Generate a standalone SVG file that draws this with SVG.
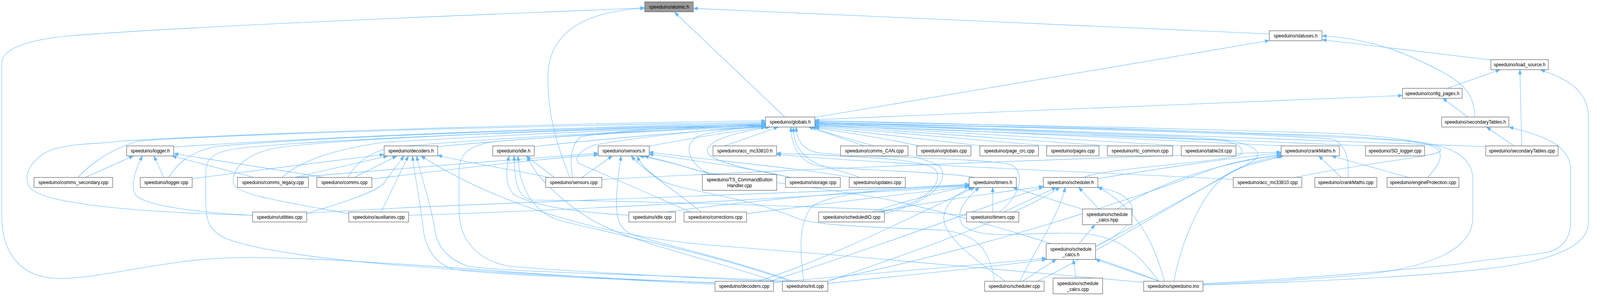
<svg xmlns="http://www.w3.org/2000/svg" width="4416" height="759" viewBox="0 0 4416 759" preserveAspectRatio="none" style="width:100%;height:100%">
<style>
.e{fill:none;stroke:#63b8ff;stroke-width:1.1}
.n rect{fill:#ffffff;stroke:#666666;stroke-width:1.3}
.n.root rect{fill:#999999}
.n text{font-family:"Liberation Sans",Arial,sans-serif;font-size:12.8px;fill:#000000;text-anchor:middle}
</style>
<defs>
<marker id="a" markerUnits="userSpaceOnUse" markerWidth="13" markerHeight="10" refX="12" refY="4.5" orient="auto">
<path d="M0,0 L12,4.5 L0,9 z" fill="#63b8ff" stroke="#63b8ff" stroke-width="0.8"/>
</marker>
</defs>
<rect x="0" y="0" width="4416" height="759" fill="#ffffff"/>
<g id="edges">
<path class="e" marker-end="url(#a)" d="M2166,300 L1862,31.5"/>
<path class="e" marker-end="url(#a)" d="M3503,87 L1914,21.5"/>
<path class="e" marker-end="url(#a)" d="M1573,455 C1540,380 1512,300 1512,200 C1512,90 1600,30 1779,21"/>
<path class="e" marker-end="url(#a)" d="M1973,729 C1500,712 900,650 613,662 C450,668 280,714 165,714 C50,714 5,640 5,557 L5,160 C5,120 100,100 189,92 C600,62 1500,32 1779,20"/>
<path class="e" marker-end="url(#a)" d="M2249,301 L3503,104"/>
<path class="e" marker-end="url(#a)" d="M4116,154 L3649,102"/>
<path class="e" marker-end="url(#a)" d="M4071,300 C4068,240 4040,215 3980,184 C3900,145 3800,100 3649,92"/>
<path class="e" marker-end="url(#a)" d="M3994,226.5 L4140,179"/>
<path class="e" marker-end="url(#a)" d="M4200,374 L4195,179"/>
<path class="e" marker-end="url(#a)" d="M3320,731 C3600,722 3900,712 4122,687 C4250,672 4384,640 4384,571 L4384,300 C4384,230 4320,200 4252,179"/>
<path class="e" marker-end="url(#a)" d="M2249,307 C2800,285 3400,262 3871,245"/>
<path class="e" marker-end="url(#a)" d="M4051,300 L3982,252"/>
<path class="e" marker-end="url(#a)" d="M4178,374 L4103,326"/>
<path class="e" marker-end="url(#a)" d="M3320,727 C3600,715 3900,690 4027,677 C4100,665 4180,660 4263,648 C4320,640 4335,600 4335,571 L4335,435 C4335,370 4250,345 4165,326"/>
<path class="e" marker-end="url(#a)" d="M479.5,377 C900,350 1700,322 2113,316"/>
<path class="e" marker-end="url(#a)" d="M215,455 C250,420 300,385 380,362 C700,340 1700,318 2113,314"/>
<path class="e" marker-end="url(#a)" d="M465,455 C490,420 520,390 600,375 C900,350 1700,324 2113,320"/>
<path class="e" marker-end="url(#a)" d="M697,552 C400,545 110,525 80,478 C60,440 100,400 140,385 C200,365 280,370 330,362 C800,335 1800,312 2113,310"/>
<path class="e" marker-end="url(#a)" d="M778,455 C820,420 900,385 1060,365 C1500,340 1900,326 2113,322"/>
<path class="e" marker-end="url(#a)" d="M963,548 C800,520 650,500 644,470 C640,420 700,388 772,378 C1000,350 1800,325 2113,318"/>
<path class="e" marker-end="url(#a)" d="M1973,726 C1500,705 800,680 620,610 C575,590 568,560 568,520 L568,440 C568,400 600,385 682,378 C1000,350 1800,326 2113,323"/>
<path class="e" marker-end="url(#a)" d="M1208,376 C1500,350 1900,328 2113,320"/>
<path class="e" marker-end="url(#a)" d="M2165,723 C1900,712 1500,692 1400,682 C1300,662 1267,600 1267,540 L1267,440 C1267,390 1300,372 1365,363 C1600,345 1900,332 2113,324"/>
<path class="e" marker-end="url(#a)" d="M960,455 C980,420 1020,390 1080,378 C1400,350 1900,330 2113,321"/>
<path class="e" marker-end="url(#a)" d="M1474,376 C1700,352 1950,335 2113,324"/>
<path class="e" marker-end="url(#a)" d="M1791,375 C1900,355 2000,340 2113,326"/>
<path class="e" marker-end="url(#a)" d="M1580,455 C1575,420 1570,380 1600,352 C1700,332 1950,322 2113,318"/>
<path class="e" marker-end="url(#a)" d="M1905,543.6 C1800,500 1650,440 1600,420 C1580,410 1600,385 1640,372 C1800,345 2000,330 2113,322"/>
<path class="e" marker-end="url(#a)" d="M1960,447.5 C1900,420 1880,370 1930,348 C1990,332 2060,328 2115,325.7"/>
<path class="e" marker-end="url(#a)" d="M2183,455 C2100,440 1980,420 1955,395 C1940,370 1990,345 2125,325.7"/>
<path class="e" marker-end="url(#a)" d="M2000,374 L2148,325.7"/>
<path class="e" marker-end="url(#a)" d="M2385,374 L2232,325.7"/>
<path class="e" marker-end="url(#a)" d="M2535,374 C2450,355 2300,335 2249,327"/>
<path class="e" marker-end="url(#a)" d="M2710,374 L2249,325"/>
<path class="e" marker-end="url(#a)" d="M2892,374 L2249,323"/>
<path class="e" marker-end="url(#a)" d="M3060,374 L2249,321"/>
<path class="e" marker-end="url(#a)" d="M3262,374 L2249,319"/>
<path class="e" marker-end="url(#a)" d="M3540,374 L2249,317"/>
<path class="e" marker-end="url(#a)" d="M3770,374 L2249,315"/>
<path class="e" marker-end="url(#a)" d="M4101,376 L2249,313"/>
<path class="e" marker-end="url(#a)" d="M3940,455 C3965,430 3985,405 3970,385 C3950,362 3800,346 3650,341 C3200,327 2600,316 2249,311"/>
<path class="e" marker-end="url(#a)" d="M3720,455 C3725,410 3715,372 3680,357 C3500,342 2700,322 2249,316"/>
<path class="e" marker-end="url(#a)" d="M3575,455 C3750,420 3960,402 3975,388 C3990,372 3900,357 3650,347 C3200,332 2600,319 2249,314"/>
<path class="e" marker-end="url(#a)" d="M3320,729 C3500,722 3700,712 3800,700 C3950,680 4065,640 4065,557 L4065,460 C4065,400 4000,372 3900,362 C3400,336 2700,318 2249,309"/>
<path class="e" marker-end="url(#a)" d="M2758,543.6 C2820,500 2830,440 2790,422 C2700,404 2400,405 2260,392 C2215,385 2200,360 2197,325.7"/>
<path class="e" marker-end="url(#a)" d="M2690,455 C2600,440 2350,436 2260,426 C2205,416 2183,370 2183,325.7"/>
<path class="e" marker-end="url(#a)" d="M2372,455 C2340,440 2270,432 2240,412 C2205,392 2190,365 2190,325.7"/>
<path class="e" marker-end="url(#a)" d="M2990,455 C3050,430 3400,415 3425,395 C3440,375 3400,358 3300,352 C2900,337 2500,322 2249,319"/>
<path class="e" marker-end="url(#a)" d="M3024,632 C3150,570 3380,452 3460,412 C3490,392 3460,367 3380,360 C2900,342 2500,327 2249,322"/>
<path class="e" marker-end="url(#a)" d="M2440,548 C2580,515 2620,460 2595,428 C2570,405 2350,365 2240,325.7"/>
<path class="e" marker-end="url(#a)" d="M235,455 L368,400"/>
<path class="e" marker-end="url(#a)" d="M697,552 C550,545 420,530 380,505 C360,490 365,450 393,400"/>
<path class="e" marker-end="url(#a)" d="M452,455 L425,400"/>
<path class="e" marker-end="url(#a)" d="M701,455 L475,400"/>
<path class="e" marker-end="url(#a)" d="M896,455 L480,394"/>
<path class="e" marker-end="url(#a)" d="M530,458 L1060,396"/>
<path class="e" marker-end="url(#a)" d="M812,455 L1070,400"/>
<path class="e" marker-end="url(#a)" d="M978,455 L1095,400"/>
<path class="e" marker-end="url(#a)" d="M846,547 C950,520 1040,490 1060,470 C1080,440 1100,420 1115,400"/>
<path class="e" marker-end="url(#a)" d="M1052,543.6 L1127,400"/>
<path class="e" marker-end="url(#a)" d="M1973,725 C1700,716 1350,705 1250,690 C1200,675 1180,640 1170,600 C1160,520 1145,450 1138,400"/>
<path class="e" marker-end="url(#a)" d="M2180,721.2 C1900,706 1400,700 1290,682 C1230,662 1210,630 1202,600 C1190,520 1160,450 1150,400"/>
<path class="e" marker-end="url(#a)" d="M1514,455 C1450,440 1300,420 1208,398"/>
<path class="e" marker-end="url(#a)" d="M3157,724 C2900,700 2400,660 1980,630 C1700,610 1400,540 1162,400"/>
<path class="e" marker-end="url(#a)" d="M1530,455 L1452,400"/>
<path class="e" marker-end="url(#a)" d="M1735.6,552 C1600,545 1480,530 1420,500 C1395,480 1395,440 1405,400"/>
<path class="e" marker-end="url(#a)" d="M2667.6,552 C2400,530 1700,515 1470,513 C1430,508 1420,470 1419,400"/>
<path class="e" marker-end="url(#a)" d="M2180,721.2 C2000,660 1700,600 1550,567 C1470,545 1432,480 1430,400"/>
<path class="e" marker-end="url(#a)" d="M2138,721.2 C1950,660 1720,620 1615,553 C1560,520 1470,450 1456,400"/>
<path class="e" marker-end="url(#a)" d="M813,455 C1000,440 1400,410 1651,393"/>
<path class="e" marker-end="url(#a)" d="M1026,459 C1200,440 1450,410 1651,397"/>
<path class="e" marker-end="url(#a)" d="M1606,455 L1690,400"/>
<path class="e" marker-end="url(#a)" d="M2190,721.2 C2000,660 1800,620 1740,600 C1700,580 1700,540 1702,500 C1704,460 1710,430 1714,400"/>
<path class="e" marker-end="url(#a)" d="M1935,543.6 C1880,500 1780,440 1742,400"/>
<path class="e" marker-end="url(#a)" d="M3200,721.2 C3000,650 2700,560 2440,510 C2200,470 1950,450 1900,430 C1830,410 1800,405 1778,400"/>
<path class="e" marker-end="url(#a)" d="M2180,455 C2100,435 1900,410 1791,395"/>
<path class="e" marker-end="url(#a)" d="M2350,455 C2200,430 1950,410 1791,390"/>
<path class="e" marker-end="url(#a)" d="M1965,447.5 C1900,430 1850,415 1765,400"/>
<path class="e" marker-end="url(#a)" d="M2745,721.2 C2730,640 2700,600 2600,590 C2400,582 2250,578 2200,560 C2050,500 1870,490 1820,460 C1790,440 1765,420 1760,400"/>
<path class="e" marker-end="url(#a)" d="M3403.7,460 C3000,440 2500,425 2143,396"/>
<path class="e" marker-end="url(#a)" d="M2430,543.6 C2560,520 2600,470 2585,440 C2570,412 2450,403 2143,393"/>
<path class="e" marker-end="url(#a)" d="M2739.8,543.6 L2739.8,480.6"/>
<path class="e" marker-end="url(#a)" d="M2990,537 L2795,480.6"/>
<path class="e" marker-end="url(#a)" d="M2407,543.6 C2500,515 2600,490 2674.7,478"/>
<path class="e" marker-end="url(#a)" d="M2218,721.2 C2210,650 2200,580 2240,530 C2300,490 2500,482 2674.7,476"/>
<path class="e" marker-end="url(#a)" d="M2092,721.2 C2300,660 2550,540 2690,480.6"/>
<path class="e" marker-end="url(#a)" d="M2775,721.2 C2680,660 2600,600 2605,556 C2610,520 2640,495 2685,480.6"/>
<path class="e" marker-end="url(#a)" d="M3198,721.2 C3150,660 3100,610 3000,600 C2850,590 2720,620 2660,580 C2630,550 2665,510 2703,480.6"/>
<path class="e" marker-end="url(#a)" d="M1840,543.6 C2100,510 2450,485 2674.7,474"/>
<path class="e" marker-end="url(#a)" d="M2060,548 C2300,520 2550,490 2674.7,479"/>
<path class="e" marker-end="url(#a)" d="M846,547 C1300,518 2300,495 2674.7,472"/>
<path class="e" marker-end="url(#a)" d="M1128,552 C1600,540 2300,500 2674.7,477"/>
<path class="e" marker-end="url(#a)" d="M3033,535.8 L2977,480.6"/>
<path class="e" marker-end="url(#a)" d="M2771,543.6 L2915,480.6"/>
<path class="e" marker-end="url(#a)" d="M2815,721.2 C2850,650 2920,560 2940,480.6"/>
<path class="e" marker-end="url(#a)" d="M2285,722 C2500,650 2800,560 2925,480.6"/>
<path class="e" marker-end="url(#a)" d="M2125,721.2 C2400,640 2750,520 2879.5,479"/>
<path class="e" marker-end="url(#a)" d="M3214,721.2 C3190,640 3150,540 3030,479"/>
<path class="e" marker-end="url(#a)" d="M3023.8,632 C3100,600 3140,560 3120,520 C3100,495 3070,488 3030,481"/>
<path class="e" marker-end="url(#a)" d="M2420,543.6 C2600,512 2800,488 2879.5,478"/>
<path class="e" marker-end="url(#a)" d="M2978,624.8 L3022,576.3"/>
<path class="e" marker-end="url(#a)" d="M2970,713 L2962,665.3"/>
<path class="e" marker-end="url(#a)" d="M2822,721.2 L2915,665.3"/>
<path class="e" marker-end="url(#a)" d="M3200,721.2 L3024,665.3"/>
<path class="e" marker-end="url(#a)" d="M2134.8,725 C2400,700 2700,680 2887.5,662"/>
<path class="e" marker-end="url(#a)" d="M2284.9,727 C2500,705 2750,684 2887.5,665"/>
<path class="e" marker-end="url(#a)" d="M3702,455 L3640,399.8"/>
<path class="e" marker-end="url(#a)" d="M3888,455 L3675,399.8"/>
<path class="e" marker-end="url(#a)" d="M3030,458 C3200,432 3400,405 3535.8,392"/>
<path class="e" marker-end="url(#a)" d="M3083,535.8 C3200,470 3350,420 3535.8,398"/>
<path class="e" marker-end="url(#a)" d="M3240,721.2 C3260,620 3320,480 3400,440 C3450,420 3500,410 3542,399.8"/>
<path class="e" marker-end="url(#a)" d="M2863,721.2 C3000,660 3250,520 3400,440 C3450,415 3500,405 3535.8,401"/>
<path class="e" marker-end="url(#a)" d="M2285,718 C2700,640 3100,520 3350,432 C3420,412 3480,403 3535.8,396"/>
<path class="e" marker-end="url(#a)" d="M1661,460 C2300,430 3000,405 3535.8,390"/>
</g>
<g id="n_atomic_h" class="n root"><rect x="1779.5" y="4.8" width="134" height="25.6"/><text x="1846.5" y="22.1">speeduino/atomic.h</text></g>
<g id="n_statuses_h" class="n"><rect x="3503.3" y="78.9" width="145.3" height="25.6"/><text x="3576" y="96.2">speeduino/statuses.h</text></g>
<g id="n_load_source_h" class="n"><rect x="4114.8" y="153" width="158.6" height="25.6"/><text x="4194.1" y="170.3">speeduino/load_source.h</text></g>
<g id="n_config_pages_h" class="n"><rect x="3870.9" y="226.5" width="164.7" height="25.6"/><text x="3953.3" y="243.8">speeduino/config_pages.h</text></g>
<g id="n_globals_h" class="n"><rect x="2113.1" y="300.1" width="135.9" height="25.6"/><text x="2181" y="317.4">speeduino/globals.h</text></g>
<g id="n_secondaryTables_h" class="n"><rect x="3978.9" y="300.1" width="185.5" height="25.6"/><text x="4071.7" y="317.4">speeduino/secondaryTables.h</text></g>
<g id="n_logger_h" class="n"><rect x="349.7" y="374.2" width="129.8" height="25.6"/><text x="414.6" y="391.5">speeduino/logger.h</text></g>
<g id="n_decoders_h" class="n"><rect x="1060.3" y="374.2" width="147.8" height="25.6"/><text x="1134.2" y="391.5">speeduino/decoders.h</text></g>
<g id="n_idle_h" class="n"><rect x="1360" y="374.2" width="114.6" height="25.6"/><text x="1417.3" y="391.5">speeduino/idle.h</text></g>
<g id="n_sensors_h" class="n"><rect x="1651.1" y="374.2" width="140.7" height="25.6"/><text x="1721.5" y="391.5">speeduino/sensors.h</text></g>
<g id="n_acc_mc33810_h" class="n"><rect x="1967.8" y="374.2" width="175.5" height="25.6"/><text x="2055.6" y="391.5">speeduino/acc_mc33810.h</text></g>
<g id="n_comms_CAN_cpp" class="n"><rect x="2319.8" y="374.2" width="186.4" height="25.6"/><text x="2413" y="391.5">speeduino/comms_CAN.cpp</text></g>
<g id="n_globals_cpp" class="n"><rect x="2530.3" y="374.2" width="149.6" height="25.6"/><text x="2605.1" y="391.5">speeduino/globals.cpp</text></g>
<g id="n_page_crc_cpp" class="n"><rect x="2704.4" y="374.2" width="161.9" height="25.6"/><text x="2785.4" y="391.5">speeduino/page_crc.cpp</text></g>
<g id="n_pages_cpp" class="n"><rect x="2888.9" y="374.2" width="144.4" height="25.6"/><text x="2961.1" y="391.5">speeduino/pages.cpp</text></g>
<g id="n_rtc_common_cpp" class="n"><rect x="3056.4" y="374.2" width="180.3" height="25.6"/><text x="3146.6" y="391.5">speeduino/rtc_common.cpp</text></g>
<g id="n_table2d_cpp" class="n"><rect x="3260.3" y="374.2" width="151" height="25.6"/><text x="3335.8" y="391.5">speeduino/table2d.cpp</text></g>
<g id="n_crankMaths_h" class="n"><rect x="3535.8" y="374.2" width="160.9" height="25.6"/><text x="3616.3" y="391.5">speeduino/crankMaths.h</text></g>
<g id="n_SD_logger_cpp" class="n"><rect x="3768.9" y="374.2" width="162.8" height="25.6"/><text x="3850.3" y="391.5">speeduino/SD_logger.cpp</text></g>
<g id="n_secondaryTables_cpp" class="n"><rect x="4100.7" y="374.2" width="199.6" height="25.6"/><text x="4200.5" y="391.5">speeduino/secondaryTables.cpp</text></g>
<g id="n_comms_secondary_cpp" class="n"><rect x="93.9" y="455" width="217.1" height="25.6"/><text x="202.5" y="472.3">speeduino/comms_secondary.cpp</text></g>
<g id="n_logger_cpp" class="n"><rect x="387" y="455" width="143.4" height="25.6"/><text x="458.7" y="472.3">speeduino/logger.cpp</text></g>
<g id="n_comms_legacy_cpp" class="n"><rect x="655.5" y="455" width="195.8" height="25.6"/><text x="753.4" y="472.3">speeduino/comms_legacy.cpp</text></g>
<g id="n_comms_cpp" class="n"><rect x="874.4" y="455" width="152" height="25.6"/><text x="950.4" y="472.3">speeduino/comms.cpp</text></g>
<g id="n_sensors_cpp" class="n"><rect x="1506.2" y="455" width="154.8" height="25.6"/><text x="1583.6" y="472.3">speeduino/sensors.cpp</text></g>
<g id="n_TS_CommandButtonHandler_cpp" class="n"><rect x="1938.5" y="447.5" width="205.3" height="40.5"/><text x="2041.2" y="465.5">speeduino/TS_CommandButton</text><text x="2041.2" y="480.1">Handler.cpp</text></g>
<g id="n_storage_cpp" class="n"><rect x="2167.9" y="455" width="151.4" height="25.6"/><text x="2243.6" y="472.3">speeduino/storage.cpp</text></g>
<g id="n_updates_cpp" class="n"><rect x="2343.8" y="455" width="154.8" height="25.6"/><text x="2421.2" y="472.3">speeduino/updates.cpp</text></g>
<g id="n_timers_h" class="n"><rect x="2674.7" y="455" width="130.2" height="25.6"/><text x="2739.8" y="472.3">speeduino/timers.h</text></g>
<g id="n_scheduler_h" class="n"><rect x="2879.5" y="455" width="150.5" height="25.6"/><text x="2954.8" y="472.3">speeduino/scheduler.h</text></g>
<g id="n_acc_mc33810_cpp" class="n"><rect x="3403.7" y="455" width="189.3" height="25.6"/><text x="3498.4" y="472.3">speeduino/acc_mc33810.cpp</text></g>
<g id="n_crankMaths_cpp" class="n"><rect x="3628.8" y="455" width="171.3" height="25.6"/><text x="3714.5" y="472.3">speeduino/crankMaths.cpp</text></g>
<g id="n_engineProtection_cpp" class="n"><rect x="3828.4" y="455" width="198.2" height="25.6"/><text x="3927.5" y="472.3">speeduino/engineProtection.cpp</text></g>
<g id="n_utilities_cpp" class="n"><rect x="697" y="543.6" width="149.6" height="25.6"/><text x="771.8" y="560.9">speeduino/utilities.cpp</text></g>
<g id="n_auxiliaries_cpp" class="n"><rect x="962.7" y="543.6" width="165.1" height="25.6"/><text x="1045.3" y="560.9">speeduino/auxiliaries.cpp</text></g>
<g id="n_idle_cpp" class="n"><rect x="1735.6" y="543.6" width="128.8" height="25.6"/><text x="1800" y="560.9">speeduino/idle.cpp</text></g>
<g id="n_corrections_cpp" class="n"><rect x="1888" y="543.6" width="172.7" height="25.6"/><text x="1974.4" y="560.9">speeduino/corrections.cpp</text></g>
<g id="n_scheduledIO_cpp" class="n"><rect x="2259.4" y="543.6" width="181.7" height="25.6"/><text x="2350.3" y="560.9">speeduino/scheduledIO.cpp</text></g>
<g id="n_timers_cpp" class="n"><rect x="2667.6" y="543.6" width="144.4" height="25.6"/><text x="2739.8" y="560.9">speeduino/timers.cpp</text></g>
<g id="n_schedule_calcs_hpp" class="n"><rect x="2987.5" y="535.8" width="136.4" height="40.5"/><text x="3055.7" y="553.8">speeduino/schedule</text><text x="3055.7" y="568.4">_calcs.hpp</text></g>
<g id="n_schedule_calcs_h" class="n"><rect x="2887.5" y="624.8" width="136.3" height="40.5"/><text x="2955.7" y="642.8">speeduino/schedule</text><text x="2955.7" y="657.4">_calcs.h</text></g>
<g id="n_decoders_cpp" class="n"><rect x="1973.5" y="721.2" width="161.3" height="25.6"/><text x="2054.2" y="738.5">speeduino/decoders.cpp</text></g>
<g id="n_init_cpp" class="n"><rect x="2159.4" y="721.2" width="125.5" height="25.6"/><text x="2222.2" y="738.5">speeduino/init.cpp</text></g>
<g id="n_scheduler_cpp" class="n"><rect x="2717.6" y="721.2" width="164.2" height="25.6"/><text x="2799.7" y="738.5">speeduino/scheduler.cpp</text></g>
<g id="n_schedule_calcs_cpp" class="n"><rect x="2906.4" y="713" width="136.8" height="40.5"/><text x="2974.8" y="731">speeduino/schedule</text><text x="2974.8" y="745.6">_calcs.cpp</text></g>
<g id="n_speeduino_ino" class="n"><rect x="3156.4" y="721.2" width="163.8" height="25.6"/><text x="3238.3" y="738.5">speeduino/speeduino.ino</text></g>
</svg>
